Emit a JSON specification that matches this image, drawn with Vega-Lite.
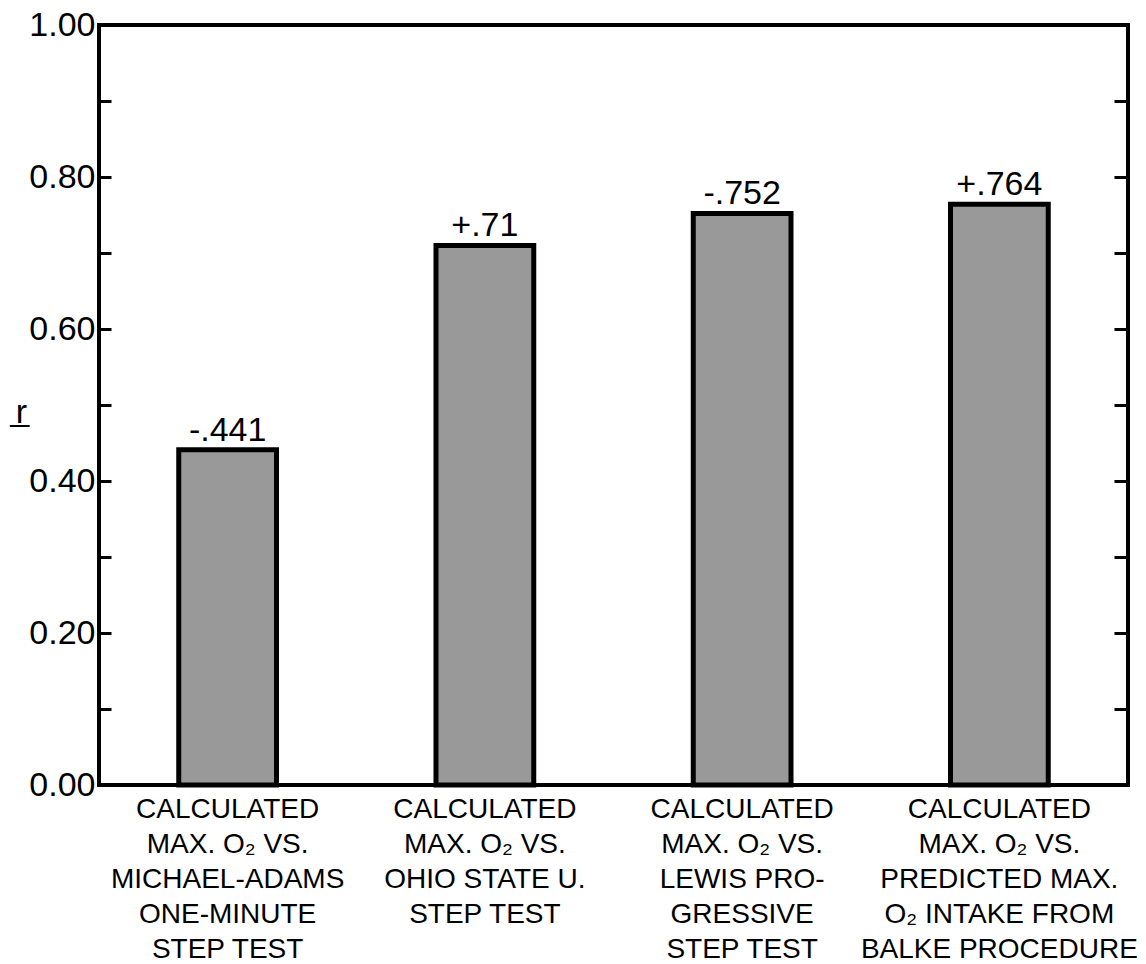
{
  "$schema": "https://vega.github.io/schema/vega-lite/v6.json",
  "width": 1029,
  "height": 760,
  "autosize": "none",
  "padding": {"left": 99, "top": 25, "right": 18, "bottom": 179},
  "background": "white",
  "config": {
    "font": "Liberation Sans",
    "view": {"stroke": "black", "strokeWidth": 4},
    "axis": {"labelColor": "black", "titleColor": "black", "grid": false, "domain": false}
  },
  "data": {
    "values": [
      {"test": "CALCULATED|MAX. O₂ VS.|MICHAEL-ADAMS|ONE-MINUTE|STEP TEST", "r": 0.441, "label": "-.441", "order": 1},
      {"test": "CALCULATED|MAX. O₂ VS.|OHIO STATE U.|STEP TEST", "r": 0.71, "label": "+.71", "order": 2},
      {"test": "CALCULATED|MAX. O₂ VS.|LEWIS PRO-|GRESSIVE|STEP TEST", "r": 0.752, "label": "-.752", "order": 3},
      {"test": "CALCULATED|MAX. O₂ VS.|PREDICTED MAX.|O₂ INTAKE FROM|BALKE PROCEDURE", "r": 0.764, "label": "+.764", "order": 4}
    ]
  },
  "resolve": {"axis": {"y": "independent"}},
  "layer": [
    {
      "mark": {"type": "bar", "fill": "#999999", "stroke": "black", "strokeWidth": 5},
      "encoding": {
        "x": {
          "field": "test", "type": "nominal", "sort": {"field": "order"},
          "scale": {"paddingInner": 0.62, "paddingOuter": 0.31},
          "axis": {
            "title": null, "ticks": false, "labelAngle": 0, "labelFontSize": 28,
            "labelLineHeight": 35, "labelPadding": 10, "labelBaseline": "top",
            "labelLimit": 0, "labelOverlap": false, "labelBound": false,
            "labelExpr": "split(datum.label, '|')"
          }
        },
        "y": {
          "field": "r", "type": "quantitative",
          "scale": {"domain": [0, 1], "nice": false},
          "axis": {
            "orient": "left", "title": "r̲", "titleAngle": 0, "titleFontSize": 34,
            "titleFontWeight": "normal", "titleX": -78, "titleY": 397, "titleAlign": "center",
            "titleBaseline": "alphabetic",
            "values": [0, 0.1, 0.2, 0.3, 0.4, 0.5, 0.6, 0.7, 0.8, 0.9, 1.0],
            "labelExpr": "round(datum.value*10) % 2 == 0 ? format(datum.value, '.2f') : ''",
            "labelFontSize": 34, "labelPadding": 16, "tickSize": -12, "tickWidth": 3,
            "tickColor": "black", "labelBaseline": "middle"
          }
        }
      }
    },
    {
      "mark": {"type": "text", "fontSize": 34, "baseline": "alphabetic", "dy": -9, "color": "black"},
      "encoding": {
        "x": {"field": "test", "type": "nominal", "sort": {"field": "order"}},
        "y": {
          "field": "r", "type": "quantitative",
          "axis": {
            "orient": "right", "title": null, "labels": false,
            "values": [0, 0.1, 0.2, 0.3, 0.4, 0.5, 0.6, 0.7, 0.8, 0.9, 1.0],
            "tickSize": -14, "tickWidth": 3, "tickColor": "black"
          }
        },
        "text": {"field": "label"}
      }
    }
  ]
}
